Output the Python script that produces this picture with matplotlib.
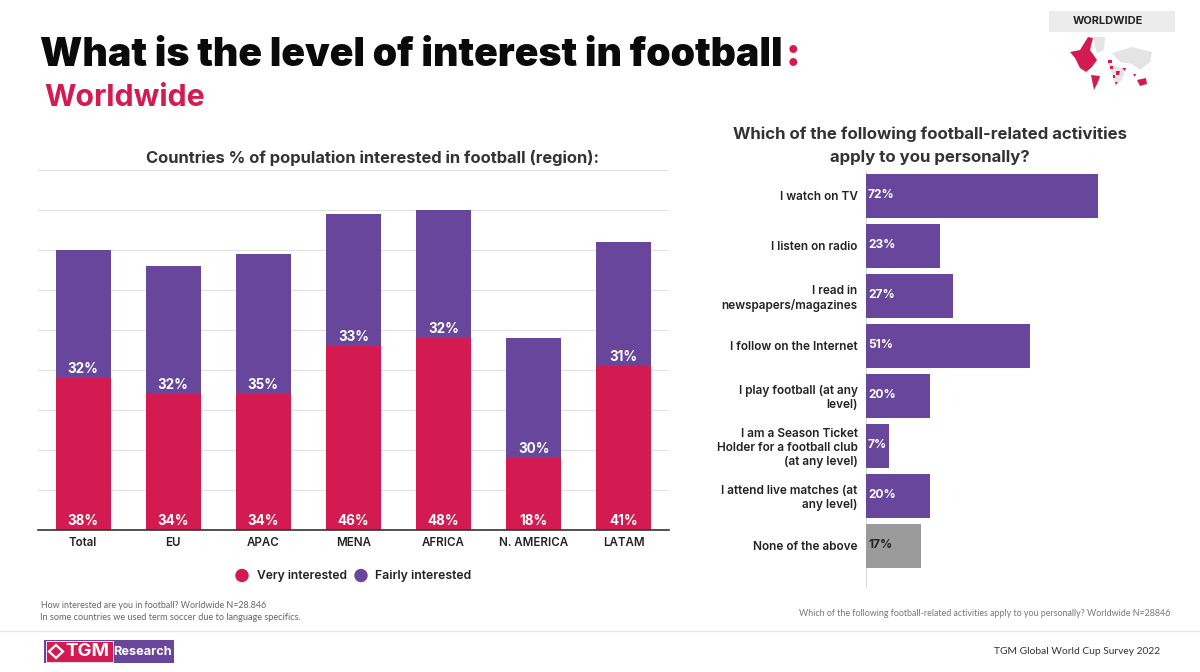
"""TGM football interest slide: stacked regions on the left, activities on the right."""

import matplotlib

matplotlib.use("Agg")
import matplotlib.pyplot as plt
from matplotlib.patches import Polygon, Rectangle

WIDTH, HEIGHT = 1200, 672

regions = ["Total", "EU", "APAC", "MENA", "AFRICA", "N. AMERICA", "LATAM"]
very_interested = [38, 34, 34, 46, 48, 18, 41]
fairly_interested = [32, 32, 35, 33, 32, 30, 31]

activities = [
    "I watch on TV",
    "I listen on radio",
    "I read in\nnewspapers/magazines",
    "I follow on the Internet",
    "I play football (at any\nlevel)",
    "I am a Season Ticket\nHolder for a football club\n(at any level)",
    "I attend live matches (at\nany level)",
    "None of the above",
]
activity_share = [72, 23, 27, 51, 20, 7, 20, 17]

CRIMSON = "#d31b51"
PURPLE = "#67469b"
GREY = "#9b9b9b"
DARK = "#222222"
FONT = "Inter"

plt.rcParams["font.family"] = [FONT, "DejaVu Sans"]


def axes_from_px(fig, left, top, right, bottom):
    return fig.add_axes(
        [left / WIDTH, 1 - bottom / HEIGHT, (right - left) / WIDTH, (bottom - top) / HEIGHT]
    )


def draw_stacked(ax):
    x = range(len(regions))
    ax.bar(x, very_interested, width=0.61, color=CRIMSON, zorder=3, label="Very interested")
    ax.bar(
        x,
        fairly_interested,
        width=0.61,
        bottom=very_interested,
        color=PURPLE,
        zorder=3,
        label="Fairly interested",
    )
    for i, (low, high) in enumerate(zip(very_interested, fairly_interested)):
        for base, value in ((0, low), (low, high)):
            ax.annotate(
                f"{value}%",
                (i, base),
                xytext=(0, 6.5),
                textcoords="offset points",
                ha="center",
                va="center",
                color="white",
                fontsize=9.7,
                fontweight="bold",
                zorder=4,
            )
    ax.set_xlim(-0.5, len(regions) - 0.5)
    ax.set_ylim(0, 90)
    ax.set_yticks(range(0, 100, 10))
    ax.set_xticks(list(x), regions, fontsize=8.3, fontweight="semibold", color=DARK)
    ax.tick_params(axis="x", length=0, pad=4.5)
    ax.tick_params(axis="y", length=0, labelleft=False)
    ax.grid(axis="y", color="#e2e2e2", linewidth=0.8, zorder=0)
    for side in ("top", "left", "right"):
        ax.spines[side].set_visible(False)
    ax.spines["bottom"].set_color("#333333")
    ax.spines["bottom"].set_linewidth(1.2)
    ax.spines["bottom"].set_zorder(5)


def draw_activities(ax):
    y = range(len(activities))
    colors = [PURPLE] * (len(activities) - 1) + [GREY]
    ax.barh(y, activity_share, height=0.88, color=colors, zorder=3)
    for i, value in enumerate(activity_share):
        ax.annotate(
            f"{value}%",
            (0, i),
            xytext=(1.5, 0),
            textcoords="offset points",
            ha="left",
            va="center",
            color=DARK if i == len(activities) - 1 else "white",
            fontsize=8.6,
            fontweight="bold",
            zorder=4,
        )
    ax.set_xlim(0, 100)
    ax.set_ylim(len(activities) - 0.5, -0.5)
    ax.set_yticks(list(y), activities, fontsize=8.5, fontweight="semibold", color=DARK)
    ax.tick_params(axis="y", length=0, pad=6)
    ax.set_xticks([])
    for side in ("top", "bottom", "right"):
        ax.spines[side].set_visible(False)
    ax.spines["left"].set_color("#d9d9d9")
    ax.spines["left"].set_bounds(len(activities) - 0.2, -0.5)


def draw_map(page):
    grey_land = [
        [(1093, 37), (1105, 37), (1104, 50), (1097, 53), (1095, 46)],
        [(1112, 53), (1132, 47), (1152, 52), (1150, 62), (1140, 70), (1132, 64), (1120, 62)],
        [(1107, 62), (1125, 70), (1122, 80), (1115, 85), (1112, 73)],
    ]
    for shape in grey_land:
        page.add_patch(Polygon(shape, closed=True, facecolor="#e4e4e4", edgecolor="none"))
    red_land = [
        [(1070, 52), (1080, 50), (1088, 37), (1093, 38), (1090, 50), (1097, 60), (1092, 67),
         (1086, 72), (1080, 68), (1075, 58)],
        [(1091, 75), (1100, 76), (1098, 82), (1094, 90), (1092, 80)],
        [(1137, 80), (1146, 78), (1147, 84), (1140, 86)],
        [(1108, 60), (1112, 60), (1112, 63), (1108, 63)],
        [(1110, 66), (1113, 66), (1113, 69), (1110, 69)],
        [(1116, 71), (1120, 71), (1119, 75), (1116, 75)],
        [(1113, 75), (1115, 75), (1115, 78), (1113, 78)],
        [(1115, 82), (1118, 82), (1116, 85)],
        [(1122, 68), (1126, 68), (1125, 71)],
        [(1133, 74), (1136, 74), (1135, 77)],
    ]
    for shape in red_land:
        page.add_patch(Polygon(shape, closed=True, facecolor=CRIMSON, edgecolor="none"))


def draw_page(page):
    page.set_xlim(0, WIDTH)
    page.set_ylim(HEIGHT, 0)
    page.axis("off")

    page.text(40, 56, "What is the level of interest in football", fontsize=28.2, fontweight="black",
              color="#0a0a0a", va="center")
    page.text(786, 56, ":", fontsize=28.2, fontweight="black", color=CRIMSON, va="center")
    page.text(44, 98, "Worldwide", fontsize=21.8, fontweight="bold", color=CRIMSON, va="center")

    page.text(372, 158, "Countries % of population interested in football (region):", fontsize=11.9,
              fontweight="bold", color="#333333", ha="center", va="center")
    page.text(930, 146, "Which of the following football-related activities\napply to you personally?",
              fontsize=12.1, fontweight="bold", color="#333333", ha="center", va="center",
              linespacing=1.7)

    # legend
    page.add_patch(plt.Circle((242, 575.5), 6, color=CRIMSON))
    page.text(257, 576, "Very interested", fontsize=8.7, fontweight="semibold", color=DARK, va="center")
    page.add_patch(plt.Circle((361, 575.5), 6, color=PURPLE))
    page.text(375, 576, "Fairly interested", fontsize=8.8, fontweight="semibold", color=DARK, va="center")

    # footnotes
    page.text(41, 606, "How interested are you in football? Worldwide N=28.846", fontsize=6.4,
              family="Lato", color="#666666", va="center")
    page.text(40, 618, "In some countries we used term soccer due to language specifics.", fontsize=6.6,
              family="Lato", color="#666666", va="center")
    page.text(1170, 613, "Which of the following football-related activities apply to you personally? Worldwide N=28846",
              fontsize=6.4, family="Lato", color="#777777", ha="right", va="center")

    # footer
    page.plot([0, WIDTH], [630.5, 630.5], color="#e6e6e6", linewidth=1)
    page.text(1160, 652, "TGM Global World Cup Survey 2022", fontsize=7.4, family="Lato",
              color="#333333", ha="right", va="center")
    page.add_patch(Rectangle((44, 640), 130, 23, facecolor=PURPLE, edgecolor="none"))
    page.add_patch(Rectangle((46, 641), 67, 21, facecolor=CRIMSON, edgecolor="white", linewidth=0.6))
    page.add_patch(Polygon([(49, 651.5), (56, 645), (63, 651.5), (56, 658)], closed=True,
                           facecolor="none", edgecolor="white", linewidth=1.6))
    page.text(65, 652, "TGM", fontsize=13.5, fontweight="bold", color="white", va="center")
    page.text(113, 652, "Research", fontsize=9.2, fontweight="bold", color="white", va="center")

    # region tag
    page.add_patch(Rectangle((1049, 11), 126, 21, facecolor="#ececec", edgecolor="none"))
    page.text(1108, 21.5, "WORLDWIDE", fontsize=7.9, fontweight="bold", color="#222222",
              ha="center", va="center")
    draw_map(page)


def main():
    fig = plt.figure(figsize=(WIDTH / 100, HEIGHT / 100), dpi=100, facecolor="white")
    draw_page(axes_from_px(fig, 0, 0, WIDTH, HEIGHT))
    draw_stacked(axes_from_px(fig, 38, 170.4, 669, 530.4))
    draw_activities(axes_from_px(fig, 866, 170.5, 1188, 570.5))
    fig.savefig("out.png", dpi=100)
    plt.close(fig)


if __name__ == "__main__":
    main()
